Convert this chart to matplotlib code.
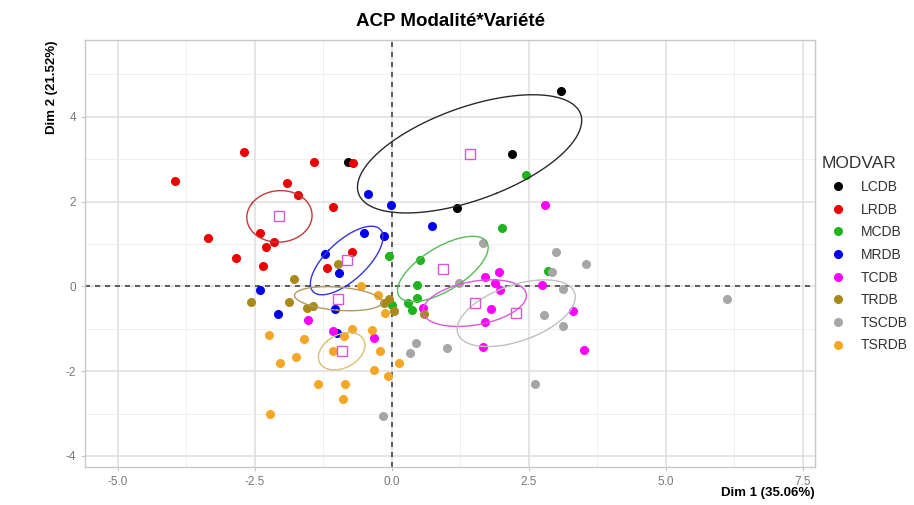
import numpy as np
import matplotlib
matplotlib.use("Agg")
import matplotlib.pyplot as plt
from matplotlib.lines import Line2D

# ---- data ----
groups = ["LCDB", "LRDB", "MCDB", "MRDB", "TCDB", "TRDB", "TSCDB", "TSRDB"]
colors = ["#000000", "#EE0000", "#1DB41D", "#0000EE", "#FF00FF", "#A88A1C", "#A6A6A6", "#F5A623"]
ellipse_colors = ["#2a2a2a", "#c23a3a", "#55bb55", "#3333dd", "#dd55dd", "#b09a60", "#c0c0c0", "#d8c070"]

lcdb_x = [3.09, 2.20, 1.18, -0.80]
lcdb_y = [4.61, 3.12, 1.84, 2.93]
lrdb_x = [-3.95, -2.69, -1.42, -0.71, -1.91, -1.71, -1.07, -3.36, -2.40, -2.16, -2.29, -2.84, -2.36, -0.73, -1.18]
lrdb_y = [2.48, 3.16, 2.93, 2.92, 2.44, 2.16, 1.88, 1.14, 1.26, 1.05, 0.93, 0.67, 0.48, 0.81, 0.44]
mcdb_x = [2.44, 2.00, -0.05, 0.51, 2.84, 0.45, 0.45, 0.29, 0.36, 0.00]
mcdb_y = [2.63, 1.38, 0.72, 0.63, 0.37, 0.03, -0.27, -0.39, -0.55, -0.45]
mrdb_x = [-0.44, -0.02, 0.73, -0.51, -0.15, -1.22, -0.96, -1.04, -2.40, -2.07, -1.00]
mrdb_y = [2.18, 1.92, 1.43, 1.26, 1.19, 0.77, 0.32, -0.53, -0.08, -0.65, -1.10]
tcdb_x = [2.80, 1.69, 1.95, 1.89, 1.98, 2.73, 1.80, 1.69, 3.31, 1.67, 3.51, 0.56, -0.33, -1.07, -1.53]
tcdb_y = [1.92, 0.22, 0.34, 0.08, -0.08, 0.03, -0.53, -0.84, -0.58, -1.43, -1.50, -0.51, -1.22, -1.05, -0.79]
trdb_x = [-1.78, -2.58, -1.87, -1.55, -1.44, -0.98, -0.15, -0.05, 0.04, 0.58]
trdb_y = [0.18, -0.37, -0.37, -0.51, -0.46, 0.53, -0.39, -0.29, -0.58, -0.65]
tscdb_x = [1.67, 3.00, 3.55, 2.93, 1.22, 3.13, 2.78, 3.13, 0.44, 0.33, 1.00, 2.62, -0.16, 6.11]
tscdb_y = [1.02, 0.81, 0.53, 0.34, 0.08, -0.06, -0.67, -0.93, -1.33, -1.57, -1.45, -2.30, -3.05, -0.29]
tsrdb_x = [-2.24, -1.60, -2.05, -1.75, -1.35, -2.22, -1.07, -0.85, -0.89, -0.87, -0.73, -0.56, -0.25, -0.13, -0.36, -0.22, 0.13, -0.33, -0.07]
tsrdb_y = [-1.15, -1.24, -1.80, -1.67, -2.30, -3.00, -1.52, -2.30, -2.66, -1.17, -1.00, 0.00, -0.20, -0.63, -1.03, -1.52, -1.80, -1.97, -2.11]

xs = [lcdb_x, lrdb_x, mcdb_x, mrdb_x, tcdb_x, trdb_x, tscdb_x, tsrdb_x]
ys = [lcdb_y, lrdb_y, mcdb_y, mrdb_y, tcdb_y, trdb_y, tscdb_y, tsrdb_y]

x_ticks = [-5.0, -2.5, 0.0, 2.5, 5.0, 7.5]
x_ticklabels = ["-5.0", "-2.5", "0.0", "2.5", "5.0", "7.5"]
y_ticks = [-4, -2, 0, 2, 4]
y_ticklabels = ["-4", "-2", "0", "2", "4"]

# ---- figure ----
W, H = 914, 505
fig = plt.figure(figsize=(W / 100, H / 100), dpi=100)
ax = fig.add_axes([85 / W, 1 - 467 / H, (815 - 85) / W, (467 - 40) / H])
ax.set_xlim(-5.60, 7.72)
ax.set_ylim(-4.26, 5.81)

ax.set_xticks(x_ticks)
ax.set_xticklabels(x_ticklabels)
ax.set_yticks(y_ticks)
ax.set_yticklabels(y_ticklabels)
ax.set_xticks(np.arange(-5.0, 7.6, 1.25), minor=True)
ax.set_yticks(np.arange(-4, 5.1, 1), minor=True)
ax.grid(True, which="major", color="#dedede", lw=1.1, zorder=0)
ax.grid(True, which="minor", color="#ececec", lw=0.6, zorder=0)
ax.set_axisbelow(True)
for s in ax.spines.values():
    s.set_color("#c8c8c8")
    s.set_linewidth(1.0)
ax.tick_params(which="major", length=3, color="#c8c8c8", labelcolor="#777777", labelsize=8.5)
ax.tick_params(which="minor", length=0)
for lab in ax.get_xticklabels() + ax.get_yticklabels():
    lab.set_family(["Liberation Sans", "DejaVu Sans"])

ax.axhline(0, color="#444444", ls=(0, (3, 3)), lw=1.2, zorder=1)
ax.axvline(0, color="#444444", ls=(0, (3, 3)), lw=1.2, zorder=1)

chi2_95 = 5.991
t = np.linspace(0, 2 * np.pi, 200)
for gx, gy, c in zip(xs, ys, colors):
    ax.plot(gx, gy, "o", ms=5.5, color=c, mec=c, zorder=3)
for gx, gy, ec in zip(xs, ys, ellipse_colors):
    gx = np.asarray(gx); gy = np.asarray(gy)
    mx, my = gx.mean(), gy.mean()
    cov = np.cov(gx, gy) / len(gx) * chi2_95
    vals, vecs = np.linalg.eigh(cov)
    circ = np.vstack([np.cos(t), np.sin(t)])
    pts = vecs @ (np.sqrt(vals)[:, None] * circ)
    ax.plot(mx + pts[0], my + pts[1], color=ec, lw=1.0, zorder=4)
    ax.plot([mx], [my], "s", ms=7, mfc="none", mec="#d45ad4", mew=1.0, zorder=5)

bold_fam = ["Liberation Sans Narrow", "Liberation Sans", "DejaVu Sans"]
fig.text(451 / W, 1 - 22 / H, "ACP Modalité*Variété", ha="center", va="center",
         fontsize=13.5, fontweight="bold", family=bold_fam)
fig.text(815 / W, 1 - 493 / H, "Dim 1 (35.06%)", ha="right", va="center",
         fontsize=9.5, fontweight="bold", family=bold_fam)
fig.text(52 / W, 1 - 40 / H, "Dim 2 (21.52%)", ha="center", va="top", rotation=90,
         fontsize=9.5, fontweight="bold", family=bold_fam)

handles = [Line2D([], [], marker="o", ls="none", ms=5.5, color=c) for c in colors]
leg = fig.legend(handles, groups, title="MODVAR", loc="upper left",
                 bbox_to_anchor=(809 / W, 1 - 144 / H), frameon=False,
                 title_fontsize=12.5, labelspacing=0.62,
                 handletextpad=0.4, handlelength=2.4,
                 prop={"family": "Liberation Sans", "size": 10})
leg._legend_box.align = "left"
leg.get_title().set_family("Liberation Sans")
leg.get_title().set_color("#333333")
for txt in leg.get_texts():
    txt.set_color("#333333")

fig.savefig("out.png", dpi=100)
